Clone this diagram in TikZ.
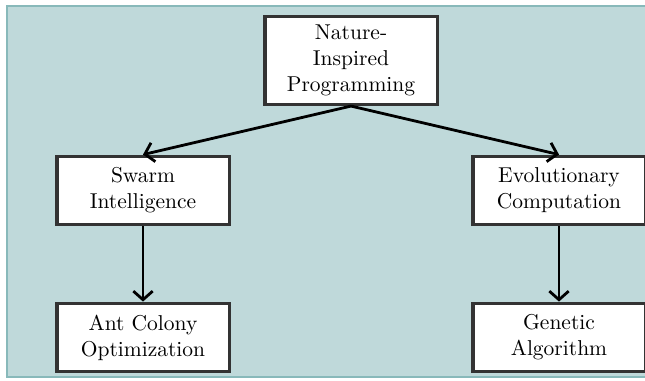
\documentclass[tikz,border=0pt]{standalone}
\usetikzlibrary{arrows.meta}
\definecolor{bgfill}{HTML}{BFD9DA}
\definecolor{bgline}{HTML}{88B9BA}
\definecolor{boxline}{HTML}{333333}
\tikzset{
  box/.style={draw=boxline, line width=1.4pt, fill=white, align=center,
    minimum width=80pt, minimum height=32pt, inner sep=2pt},
  conn/.style={line width=1.3pt, -{Straight Barb[length=4pt,width=9pt,line width=1.3pt]}},
}
\begin{document}
\begin{tikzpicture}[x=0.4651pt, y=-0.4651pt]
\useasboundingbox (0,0) rectangle (645,381);
\begin{scope}
\clip (0,0) rectangle (645,381);
\draw[bgline, fill=bgfill, line width=1.2pt] (7,6) rectangle (700,377);
\end{scope}
\node[box, minimum height=41pt] (nip) at (351,60.5) {Nature-\\Inspired\\Programming};
\node[box] (swarm) at (143,190.5) {Swarm\\Intelligence};
\node[box] (evo) at (559,190.5) {Evolutionary\\Computation};
\node[box] (aco) at (143,337.5) {Ant Colony\\Optimization};
\node[box] (ga) at (559,337.5) {Genetic\\Algorithm};
\draw[conn] (nip.south) -- (swarm.north);
\draw[conn] (nip.south) -- (evo.north);
\draw[conn] (swarm.south) -- (aco.north);
\draw[conn] (evo.south) -- (ga.north);
\end{tikzpicture}
\end{document}
